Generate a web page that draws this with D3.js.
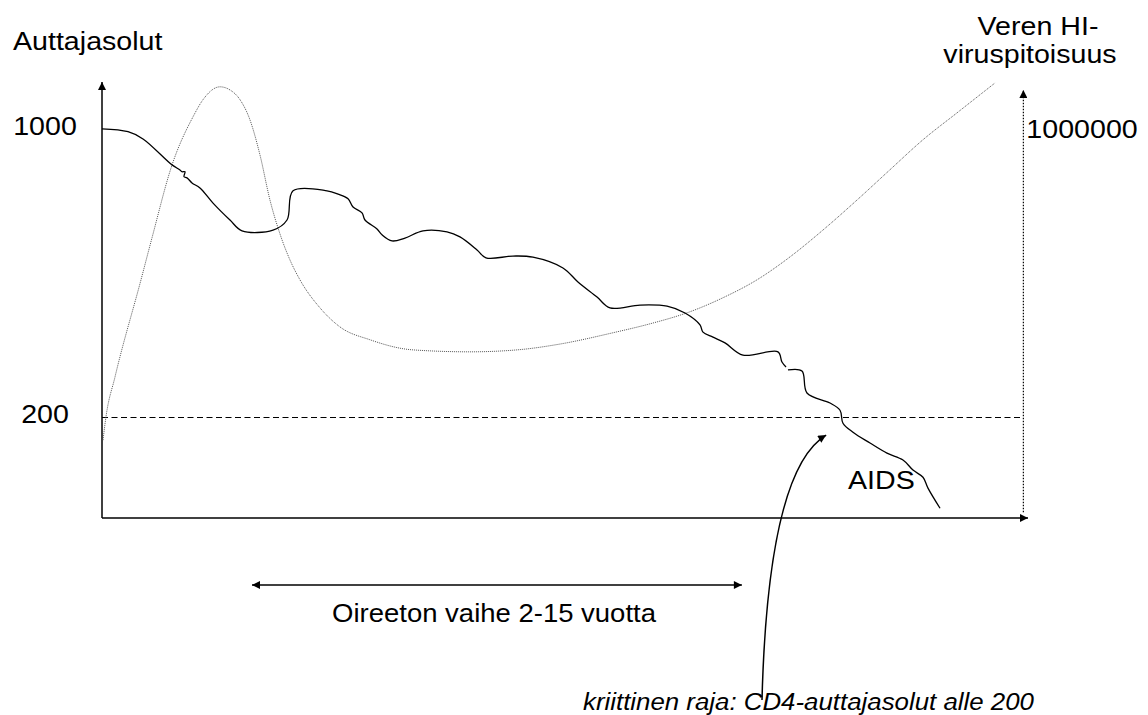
<!DOCTYPE html>
<html>
<head>
<meta charset="utf-8">
<script src="https://cdn.jsdelivr.net/npm/d3@7"></script>
<style>
  body { margin: 0; background: #fff; }
  text { font-family: "Liberation Sans", Arial, sans-serif; fill: #000; }
</style>
</head>
<body>
<div id="chart"></div>
<script>
// CD4 helper cell count (cells/µl) over time (0-100 = whole course)
const cd4Time = [0, 2.81, 4.43, 7.56, 8.42, 8.64, 8.96, 8.86, 9.18, 9.72, 10.58, 11.99, 13.82, 15.12, 18.47,
    19.98, 20.63, 24.3, 25.49, 26.57, 27.11, 28.08, 28.4, 29.7, 30.24, 31.32, 32.72, 34.67, 37.26, 38.66,
    40.5, 41.47, 44.38, 46.54, 49.78, 51.4, 53.46, 54.86, 58.1, 61.02, 62.96, 64.58, 64.9, 65.98, 67.28,
    69.22, 73.0, 73.43, 73.87, 73.97, 74.08, 75.59, 76.13, 78.62, 79.7, 80.02, 81.1, 82.94, 84.77, 86.5,
    87.58, 88.66, 89.2, 90.5]
const cd4Count = [1000, 992, 972, 900, 886, 881, 881, 867, 864, 850, 836, 794, 747, 717, 719,
    747, 828, 828, 819, 806, 783, 767, 747, 722, 706, 689, 697, 717, 714, 700,
    664, 642, 647, 644, 614, 575, 533, 503, 511, 508, 489, 456, 436, 422, 406,
    372, 381, 353, 339, null, 331, 328, 267, 239, 219, 183, 158, 128, 100, 81,
    53, 33, 3, -53]

// HI virus load in blood (thousands of copies)
const viralTime = [0.11, 0.43, 1.4, 4.21, 5.4, 7.56, 9.83, 10.91, 12.74, 13.82, 14.9, 15.98, 17.06,
    18.14, 19.22, 20.3, 21.38, 23.54, 25.7, 28.94, 33.59, 39.74, 44.82, 49.46, 55.18, 59.18, 63.5,
    67.06, 70.73, 74.3, 77.86, 81.53, 85.1, 88.66, 92.33, 96.44]
const viralLoad = [200, 260, 362, 612, 720, 907, 1031, 1075, 1108, 1100, 1075, 1023, 933,
    817, 730, 663, 612, 540, 491, 458, 432, 427, 432, 447, 476, 499, 530,
    566, 612, 671, 740, 817, 895, 972, 1041, 1118]

const leftTicks = [1000, 200]
const rightTicks = [1000000]
const threshold = 200

const width = 1148, height = 715

const x = d3.scaleLinear().domain([0, 100]).range([102, 1028])
const y = d3.scaleLinear().domain([-80, 1130]).range([518, 82])
const yV = d3.scaleLinear().domain([0, 1000]).range([y(-80), y(1000)])

const svg = d3.select('#chart')
    .append('svg')
    .attr('width', width)
    .attr('height', height)

const defs = svg.append('defs')
defs.append('marker')
    .attr('id', 'arrow')
    .attr('viewBox', '0 0 10 10')
    .attr('refX', 10)
    .attr('refY', 5)
    .attr('markerWidth', 10)
    .attr('markerHeight', 8)
    .attr('markerUnits', 'userSpaceOnUse')
    .attr('orient', 'auto-start-reverse')
    .append('path')
    .attr('d', 'M0,0 L10,5 L0,10 z')
    .attr('fill', '#000')

function label(txt, px, py, anchor, size, italic) {
    svg.append('text')
        .attr('transform', `translate(${px},${py}) scale(1.1,1)`)
        .attr('text-anchor', anchor)
        .style('font-size', size + 'px')
        .style('font-style', italic ? 'italic' : null)
        .text(txt)
}

// axes
svg.append('line')
    .attr('x1', x(0)).attr('y1', y(-80))
    .attr('x2', x(0)).attr('y2', y(1130))
    .attr('stroke', '#000').attr('stroke-width', 1.5)
    .attr('marker-end', 'url(#arrow)')
svg.append('line')
    .attr('x1', x(0)).attr('y1', y(-80))
    .attr('x2', x(100)).attr('y2', y(-80))
    .attr('stroke', '#000').attr('stroke-width', 1.5)
    .attr('marker-end', 'url(#arrow)')

// right (virus) axis, dotted
svg.append('line')
    .attr('x1', x(99.5)).attr('y1', yV(15))
    .attr('x2', x(99.5)).attr('y2', yV(1100))
    .attr('stroke', '#000').attr('stroke-width', 1.2)
    .attr('stroke-dasharray', '1.5,1.5')
    .attr('marker-end', 'url(#arrow)')

// threshold line
svg.append('line')
    .attr('x1', x(0)).attr('y1', Math.round(y(threshold)) + 0.5)
    .attr('x2', x(99.2)).attr('y2', Math.round(y(threshold)) + 0.5)
    .attr('stroke', '#000').attr('stroke-width', 1.1)
    .attr('stroke-dasharray', '6,3.5')

// viral load curve
const viral = viralTime.map((t, i) => ({ t, v: viralLoad[i] }))
svg.append('path')
    .datum(viral)
    .attr('fill', 'none')
    .attr('stroke', '#555')
    .attr('stroke-width', 1)
    .attr('stroke-dasharray', '1,1')
    .attr('d', d3.line()
        .x(d => x(d.t))
        .y(d => yV(d.v))
        .curve(d3.curveMonotoneX))

// CD4 curve
const cd4 = cd4Time.map((t, i) => ({ t, v: cd4Count[i] }))
svg.append('path')
    .datum(cd4)
    .attr('fill', 'none')
    .attr('stroke', '#000')
    .attr('stroke-width', 1.3)
    .attr('stroke-linejoin', 'round')
    .attr('d', d3.line()
        .defined(d => d.v !== null)
        .x(d => x(d.t))
        .y(d => y(d.v))
        .curve(d3.curveCatmullRom.alpha(0.5)))

// tick labels
leftTicks.forEach(v => label(v, 45, y(v) + 6, 'middle', 26))
rightTicks.forEach(v => label(v, x(99.5) + 3, yV(v / 1000) + 9, 'start', 26))

// axis titles
label('Auttajasolut', 13, 50, 'start', 26)
label('Veren HI-', 1038, 35, 'middle', 26)
label('viruspitoisuus', 1030, 63, 'middle', 26)
label('AIDS', 848, 489, 'start', 26)

// asymptomatic phase
svg.append('line')
    .attr('x1', x(16.2)).attr('y1', 585)
    .attr('x2', x(69.1)).attr('y2', 585)
    .attr('stroke', '#000').attr('stroke-width', 1.3)
    .attr('marker-start', 'url(#arrow)')
    .attr('marker-end', 'url(#arrow)')
label('Oireeton vaihe 2-15 vuotta', 494, 622, 'middle', 25)

// critical limit pointer
svg.append('path')
    .attr('d', `M762,700 Q768,470 ${x(78.2)},${y(150)}`)
    .attr('fill', 'none')
    .attr('stroke', '#000').attr('stroke-width', 1.5)
    .attr('marker-end', 'url(#arrow)')
label('kriittinen raja: CD4-auttajasolut alle 200', 583, 710, 'start', 23.5, true)
</script>
</body>
</html>
